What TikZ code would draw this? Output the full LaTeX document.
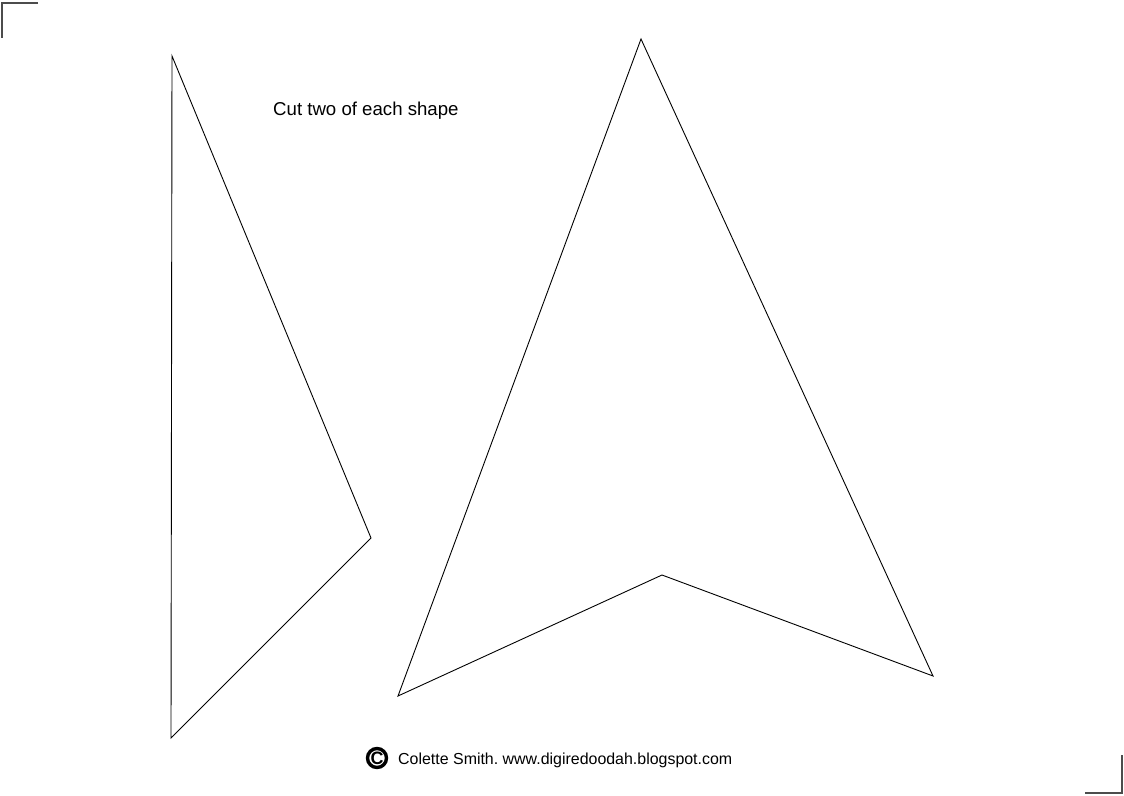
\documentclass[tikz,border=0pt]{standalone}
\usepackage{fontspec}
\setmainfont{Liberation Sans}
\frenchspacing
\begin{document}
\begin{tikzpicture}[x=1bp,y=-1bp,
  outline/.style={draw=black,line width=0.9bp,line join=miter},
  crop/.style={draw=black!70,line width=1.2bp},
  label/.style={inner sep=0pt,anchor=base west}]
\useasboundingbox (0,0) rectangle (1124,796);
% crop marks
\coordinate (tl1) at (2,3); \coordinate (tl2) at (38,3); \coordinate (tl3) at (2,38);
\draw[crop] (tl2) -- (tl1) -- (tl3);
\coordinate (br1) at (1122,793); \coordinate (br2) at (1085,793); \coordinate (br3) at (1122,755);
\draw[crop] (br2) -- (br1) -- (br3);
% left triangle
\coordinate (a1) at (172,56); \coordinate (a2) at (371,538); \coordinate (a3) at (171,738);
\draw[outline] (a1) -- (a2) -- (a3) -- cycle;
% right arrowhead shape
\coordinate (b1) at (641,39); \coordinate (b2) at (933,676);
\coordinate (b3) at (662,575); \coordinate (b4) at (398,696);
\draw[outline] (b1) -- (b2) -- (b3) -- (b4) -- cycle;
% text
\node[label,font=\fontsize{18.7}{22}\selectfont] (cut) at (273,115) {Cut two of each shape};
\node[draw=black,line width=3.4bp,circle,minimum size=19bp,inner sep=0pt,
  font=\fontsize{18}{20}\selectfont\bfseries] (copy) at (377,758) {C};
\node[label,font=\fontsize{16.0}{20}\selectfont] (credit) at (398,764.5) {Colette Smith. www.digiredoodah.blogspot.com};
\end{tikzpicture}
\end{document}
